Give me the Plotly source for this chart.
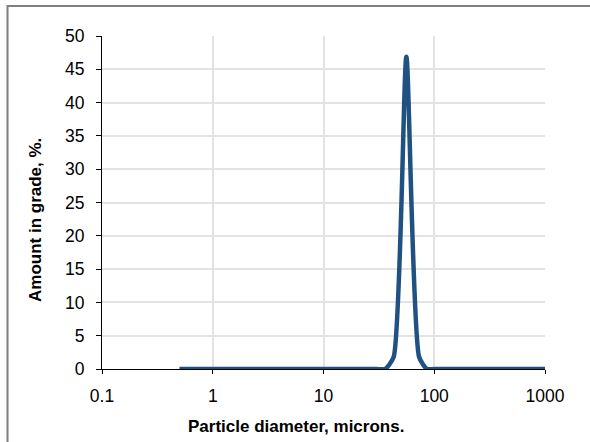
import plotly.graph_objects as go

diameter = [0.5, 1, 2, 5, 10, 20, 30, 36, 43, 56, 73, 86, 100, 200, 500, 1000]
amount = [0, 0, 0, 0, 0, 0, 0, 0, 1.8, 46.9, 1.8, 0, 0, 0, 0, 0]

x_ticks = [0.1, 1, 10, 100, 1000]
x_tick_labels = ["0.1", "1", "10", "100", "1000"]
y_ticks = [0, 5, 10, 15, 20, 25, 30, 35, 40, 45, 50]

font = "Liberation Sans, Arial, sans-serif"

fig = go.Figure()
fig.add_trace(go.Scatter(
    x=diameter, y=amount, mode="lines",
    line=dict(color="#215182", width=4.5, shape="spline", smoothing=0.6),
    showlegend=False,
))

fig.update_layout(
    width=590, height=442,
    margin=dict(l=102, r=45, t=36, b=73),
    paper_bgcolor="white", plot_bgcolor="white",
    font=dict(family=font, size=17.5, color="black"),
    xaxis=dict(
        type="log", range=[-1, 3],
        tickvals=x_ticks, ticktext=x_tick_labels,
        showgrid=True, gridcolor="#e3e3e3", gridwidth=1.5,
        showline=True, linecolor="black", linewidth=1,
        ticks="outside", ticklen=4, tickcolor="black",
        zeroline=False, tickfont=dict(size=17.5),
        ticklabelstandoff=7,
    ),
    yaxis=dict(
        range=[0, 50], tickvals=y_ticks,
        showgrid=True, gridcolor="#e3e3e3", gridwidth=1.5,
        showline=True, linecolor="black", linewidth=1,
        ticks="outside", ticklen=5, tickcolor="black",
        zeroline=False, tickfont=dict(size=17.5),
        ticklabelstandoff=8,
    ),
    annotations=[
        dict(text="<b>Particle diameter, microns.</b>", xref="paper", yref="paper",
             x=(296 - 102) / 443, y=(369 - 426) / 333, xanchor="center", yanchor="middle",
             showarrow=False, font=dict(size=17, family=font)),
        dict(text="<b>Amount in grade, %.</b>", xref="paper", yref="paper",
             x=(35 - 102) / 443, y=(369 - 220) / 333, xanchor="center", yanchor="middle",
             textangle=-90, showarrow=False, font=dict(size=17, family=font)),
    ],
    shapes=[
        dict(type="rect", xref="paper", yref="paper",
             x0=(7.5 - 102) / 443, y0=-0.5, x1=1.5, y1=(369 - 6) / 333,
             line=dict(color="#7f7f7f", width=2), layer="below"),
    ],
)

fig.write_html("out.html")
